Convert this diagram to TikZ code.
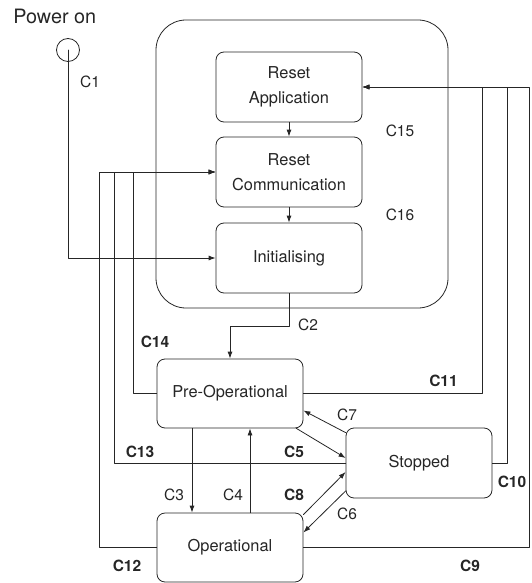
\documentclass[tikz,border=0pt]{standalone}
\usepackage{fontspec}
\setmainfont{TeX Gyre Heros}
\usetikzlibrary{arrows.meta}
\begin{document}
\begin{tikzpicture}[x=1pt,y=-1pt,line cap=round,line join=round,color=black!85,line width=0.8pt,
  >={Latex[length=7pt,width=5pt]},
  state/.style={draw,rounded corners=8pt,minimum width=146pt,minimum height=70pt,align=center,
    font=\fontsize{16.4}{25}\selectfont},
  lbl/.style={inner sep=0pt,font=\fontsize{15.5}{18}\selectfont},
  blbl/.style={inner sep=0pt,font=\fontsize{15.5}{18}\selectfont\bfseries}]
  \useasboundingbox (0,0) rectangle (531,583);
  % power on
  \node[anchor=base west,inner sep=0pt,font=\fontsize{19.8}{22}\selectfont] (pwrtxt) at (13,24) {Power on};
  \node[draw,circle,minimum size=23pt,inner sep=0pt] (pwr) at (68,50) {};
  % NMT reset block
  \node[draw,rounded corners=30pt,minimum width=292pt,minimum height=288pt] (reset) at (302,164) {};
  \node[state] (rapp) at (289,87) {Reset\\Application};
  \node[state] (rcom) at (289,172) {Reset\\Communication};
  \node[state] (init) at (289,258) {Initialising};
  % states
  \node[state,minimum height=69pt] (preop) at (230,393.5) {Pre-Operational};
  \node[state] (stop) at (419,463) {Stopped};
  \node[state,minimum height=69pt] (oper) at (230,547.5) {Operational};
  % rails
  \coordinate (r12) at (99,0);
  \coordinate (r13) at (114,0);
  \coordinate (r14) at (133,0);
  \coordinate (r11) at (482,0);
  \coordinate (r10) at (507,0);
  \coordinate (r9) at (529,0);
  \coordinate (c2bend) at (0,326);
  % transitions
  \draw[->] (pwr.center) |- (init.west);
  \draw[->] (rapp.south) -- (rcom.north);
  \draw[->] (rcom.south) -- (init.north);
  \draw[->] (init.south) |- (preop.north |- c2bend) -- (preop.north);
  \draw[->] ([xshift=-38pt]preop.south) -- ([xshift=-38pt]oper.north);
  \draw[->] ([xshift=20pt]oper.north) -- ([xshift=20pt]preop.south);
  \draw[->] ([xshift=-7pt]preop.south east) -- ([yshift=5pt]stop.west);
  \draw[->] ([yshift=-28pt]stop.west) -- ([yshift=15pt]oper.east);
  \draw[->] ([yshift=-5pt]stop.north west) -- ([yshift=-17pt]preop.east);
  \draw[->] ([yshift=-2pt]oper.north east) -- ([yshift=-9pt]stop.west);
  \draw[->] (oper.east) -| (r9 |- rapp.east) -- (rapp.east);
  \draw[->] (stop.east) -| (r10 |- rapp.east) -- (rapp.east);
  \draw[->] (preop.east) -| (r11 |- rapp.east) -- (rapp.east);
  \draw[->] (oper.west) -| (r12 |- rcom.west) -- (rcom.west);
  \draw[->] (stop.west) -| (r13 |- rcom.west) -- (rcom.west);
  \draw[->] (preop.west) -| (r14 |- rcom.west) -- (rcom.west);
  % labels
  \node[lbl] (l1) at (90,82) {C1};
  \node[lbl] (l2) at (308,324.5) {C2};
  \node[lbl] (l3) at (174,495) {C3};
  \node[lbl] (l4) at (233,495) {C4};
  \node[blbl] (l5) at (294,452) {C5};
  \node[lbl] (l6) at (347,514) {C6};
  \node[lbl] (l7) at (347,414.5) {C7};
  \node[blbl] (l8) at (294,495) {C8};
  \node[blbl] (l9) at (470,565.5) {C9};
  \node[blbl] (l10) at (512,481.5) {C10};
  \node[blbl] (l11) at (443.5,380.5) {C11};
  \node[blbl] (l12) at (127,565.5) {C12};
  \node[blbl] (l13) at (140,451.5) {C13};
  \node[blbl] (l14) at (155,341.5) {C14};
  \node[lbl] (l15) at (400,130.5) {C15};
  \node[lbl] (l16) at (400,214.5) {C16};
\end{tikzpicture}
\end{document}
